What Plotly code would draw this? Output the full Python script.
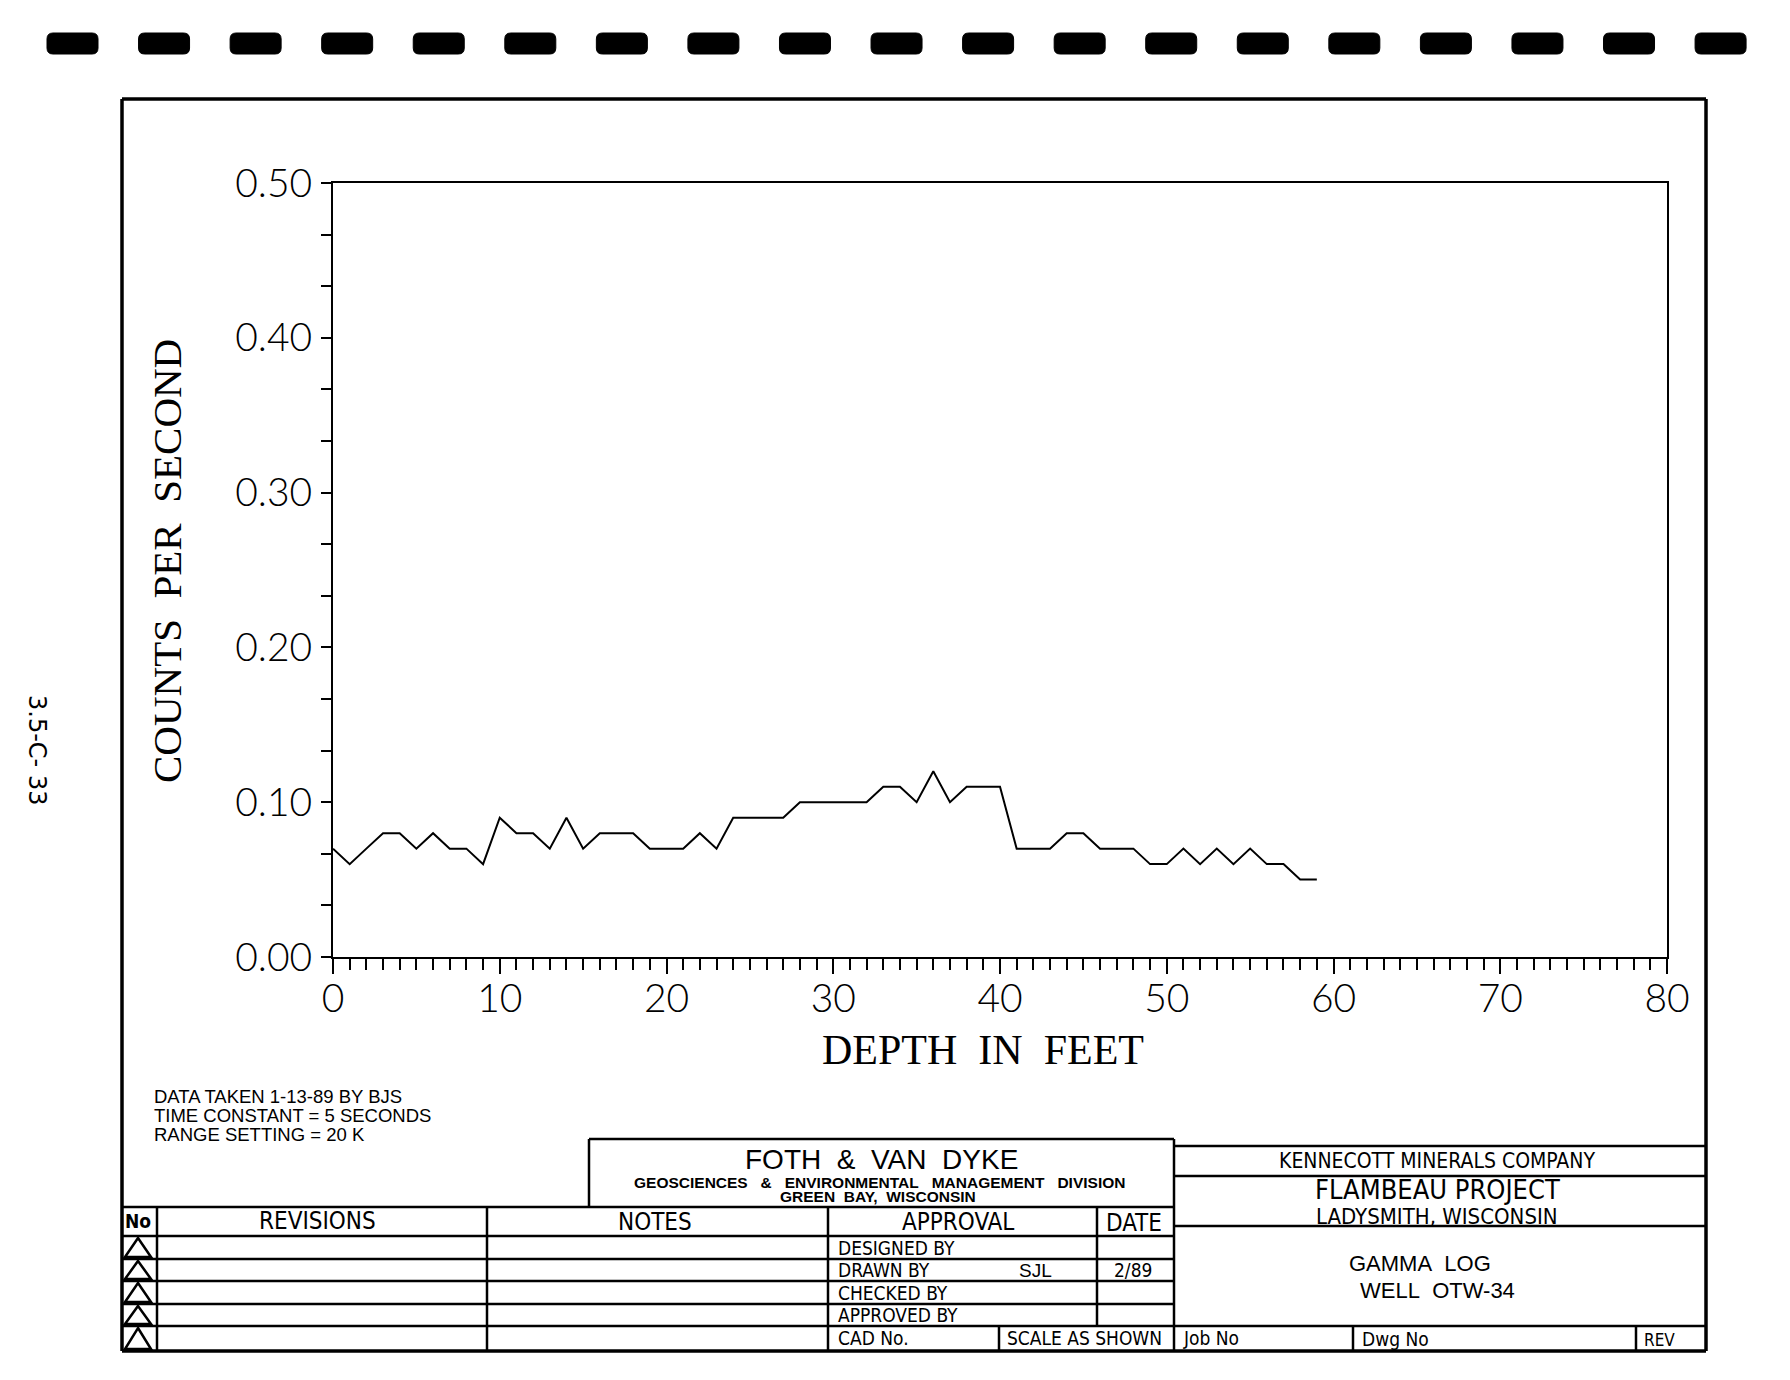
import plotly.graph_objects as go

# ---------------- data ----------------
depth_ft = list(range(0, 60))
cps = [0.07, 0.06, 0.07, 0.08, 0.08, 0.07, 0.08, 0.07, 0.07, 0.06,
       0.09, 0.08, 0.08, 0.07, 0.09, 0.07, 0.08, 0.08, 0.08, 0.07,
       0.07, 0.07, 0.08, 0.07, 0.09, 0.09, 0.09, 0.09, 0.10, 0.10,
       0.10, 0.10, 0.10, 0.11, 0.11, 0.10, 0.12, 0.10, 0.11, 0.11,
       0.11, 0.07, 0.07, 0.07, 0.08, 0.08, 0.07, 0.07, 0.07, 0.06,
       0.06, 0.07, 0.06, 0.07, 0.06, 0.07, 0.06, 0.06, 0.05, 0.05]
y_ticks = [0.0, 0.1, 0.2, 0.3, 0.4, 0.5]
x_ticks = [0, 10, 20, 30, 40, 50, 60, 70, 80]

W, H = 1790, 1380


def X(px):
    return px / W


def Y(py):
    return 1 - py / H


shapes = []
annos = []


def line(x0, y0, x1, y1, w=2.5):
    shapes.append(dict(type="line", xref="paper", yref="paper",
                       x0=X(x0), y0=Y(y0), x1=X(x1), y1=Y(y1),
                       line=dict(color="black", width=w)))


NAR = "Liberation Sans Narrow, DejaVu Sans Condensed, Arial Narrow, sans-serif"
SANS = "Liberation Sans, Arial, sans-serif"
SERIF = "Liberation Serif, DejaVu Serif, Times New Roman, serif"
SP = "\u00a0"


def text(s, x, y, size, family=NAR, xanchor="center", angle=0, weight="normal"):
    annos.append(dict(text=s, x=X(x), y=Y(y), xref="paper", yref="paper",
                      xanchor=xanchor, yanchor="middle", showarrow=False,
                      textangle=angle,
                      font=dict(size=size, family=family, color="black", weight=weight)))


# top punch-card style rectangles
for i in range(19):
    x0 = 47 + i * 91.56
    x1 = x0 + 51
    y0, y1 = 33, 54
    r = 6
    p = (f"M {X(x0+r)},{Y(y0)} L {X(x1-r)},{Y(y0)} Q {X(x1)},{Y(y0)} {X(x1)},{Y(y0+r)} "
         f"L {X(x1)},{Y(y1-r)} Q {X(x1)},{Y(y1)} {X(x1-r)},{Y(y1)} "
         f"L {X(x0+r)},{Y(y1)} Q {X(x0)},{Y(y1)} {X(x0)},{Y(y1-r)} "
         f"L {X(x0)},{Y(y0+r)} Q {X(x0)},{Y(y0)} {X(x0+r)},{Y(y0)} Z")
    shapes.append(dict(type="path", xref="paper", yref="paper", path=p,
                       fillcolor="black", line=dict(color="black", width=1)))

# outer frame
FL, FR, FT, FB = 122, 1706, 99, 1351
line(FL, FT, FR, FT, 3.5)
line(FL, FT, FL, FB, 3.5)
line(FR, FT, FR, FB, 3.5)
line(FL, FB, FR, FB, 3.5)

# title block geometry
rows = [1207, 1236, 1259, 1281, 1304, 1326, 1351]
c_no, c_rev, c_notes, c_date, c_mid = 157, 487, 828, 1097, 1174
for r in rows[:-1]:
    line(FL, r, c_mid, r, 2.5)
line(589, 1139, c_mid, 1139, 2.5)
line(589, 1139, 589, rows[0], 2.5)
line(c_no, rows[0], c_no, FB, 2.5)
line(c_rev, rows[0], c_rev, FB, 2.5)
line(c_notes, rows[0], c_notes, FB, 2.5)
line(c_date, rows[0], c_date, rows[5], 2.5)
line(999, rows[5], 999, FB, 2.5)
line(c_mid, 1139, c_mid, FB, 2.5)
line(c_mid, 1146, FR, 1146, 2.5)
line(c_mid, 1176, FR, 1176, 2.5)
line(c_mid, 1226, FR, 1226, 2.5)
line(c_mid, 1326, FR, 1326, 2.5)
line(1353, 1326, 1353, FB, 2.5)
line(1636, 1326, 1636, FB, 2.5)

# triangles in the "No" column
for k in range(1, 6):
    t, b = rows[k] + 2, rows[k + 1] - 2
    p = f"M {X(138)},{Y(t)} L {X(151)},{Y(b)} L {X(125)},{Y(b)} Z"
    shapes.append(dict(type="path", xref="paper", yref="paper", path=p,
                       line=dict(color="black", width=2.5)))

# title block texts
text("DATA TAKEN 1-13-89 BY BJS", 152, 1096, 18.5, family=SANS, xanchor="left")
text("TIME CONSTANT = 5 SECONDS", 152, 1115, 18.5, family=SANS, xanchor="left")
text("RANGE SETTING = 20 K", 152, 1134, 18.5, family=SANS, xanchor="left")
text(f"FOTH{SP}{SP}&{SP}{SP}VAN{SP}{SP}DYKE", 881, 1159, 28, family=SANS)
text(f"GEOSCIENCES{SP}{SP}{SP}&{SP}{SP}{SP}ENVIRONMENTAL{SP}{SP}{SP}MANAGEMENT{SP}{SP}{SP}DIVISION",
     879, 1182, 15.5, family=SANS, weight="bold")
text(f"GREEN{SP}{SP}BAY,{SP}{SP}WISCONSIN", 878, 1196, 15.5, family=SANS, weight="bold")
text("KENNECOTT MINERALS COMPANY", 1437, 1161, 21)
text("FLAMBEAU PROJECT", 1437, 1189, 27)
text("LADYSMITH, WISCONSIN", 1437, 1216, 22)
text(f"GAMMA{SP}{SP}LOG", 1420, 1263, 22, family=SANS)
text(f"WELL{SP}{SP}OTW-34", 1437, 1290, 22, family=SANS)
text("No", 138, 1221, 19, weight="bold")
text("REVISIONS", 317, 1221, 24)
text("NOTES", 655, 1222, 24)
text("APPROVAL", 958, 1222, 24)
text("DATE", 1134, 1223, 24)
text("DESIGNED BY", 836, 1248, 19, xanchor="left")
text("DRAWN BY", 836, 1270, 19, xanchor="left")
text("SJL", 1035, 1270, 19, family=SANS)
text("2/89", 1133, 1270, 19)
text("CHECKED BY", 836, 1293, 19, xanchor="left")
text("APPROVED BY", 836, 1315, 19, xanchor="left")
text("CAD No.", 836, 1338, 19, xanchor="left")
text("SCALE AS SHOWN", 1005, 1338, 19, xanchor="left")
text("Job No", 1181, 1338, 19, xanchor="left")
text("Dwg No", 1360, 1339, 19, xanchor="left")
text("REV", 1642, 1340, 17, xanchor="left")

# axis titles and side label
text(f"COUNTS{SP}{SP}PER{SP}{SP}SECOND", 167, 561, 41, family=SERIF, angle=-90)
text(f"DEPTH{SP}{SP}IN{SP}{SP}FEET", 983, 1050, 42, family=SERIF)
text("3.5-C- 33", 37, 750, 24, family="DejaVu Sans, sans-serif", angle=90)

# ---------------- figure ----------------
PL, PR, PT, PB = 333, 1667, 183, 957
THIN = dict(family="Lato, DejaVu Sans, sans-serif", size=39, color="black", weight=300)

fig = go.Figure()
fig.add_trace(go.Scatter(x=depth_ft, y=cps, mode="lines",
                         line=dict(color="black", width=2), showlegend=False,
                         hoverinfo="skip"))

fig.update_layout(
    width=W, height=H,
    margin=dict(l=0, r=0, t=0, b=0, autoexpand=False),
    paper_bgcolor="white", plot_bgcolor="white",
    shapes=shapes, annotations=annos,
    xaxis=dict(domain=[X(PL), X(PR)], range=[0, 80], tickvals=x_ticks,
               ticktext=[str(v) for v in x_ticks], automargin=False,
               showgrid=False, zeroline=False, showline=True, mirror=True,
               linecolor="black", linewidth=2,
               ticks="outside", ticklen=15, tickwidth=2, tickcolor="black",
               ticklabelstandoff=-9, tickfont=THIN,
               minor=dict(dtick=1, ticklen=11, tickwidth=2, tickcolor="black",
                          ticks="outside", showgrid=False)),
    yaxis=dict(domain=[Y(PB), Y(PT)], range=[0, 0.5], tickvals=y_ticks,
               tickformat=".2f", automargin=False,
               showgrid=False, zeroline=False, showline=True, mirror=True,
               linecolor="black", linewidth=2,
               ticks="outside", ticklen=10, tickwidth=2, tickcolor="black",
               ticklabelstandoff=1, tickfont=THIN,
               minor=dict(dtick=0.1 / 3, ticklen=10, tickwidth=2, tickcolor="black",
                          ticks="outside", showgrid=False)),
)

fig.write_html(
    "out.html",
    config={"responsive": False, "displayModeBar": False},
    post_script="document.body.style.margin='0';document.body.style.overflow='hidden';",
)
